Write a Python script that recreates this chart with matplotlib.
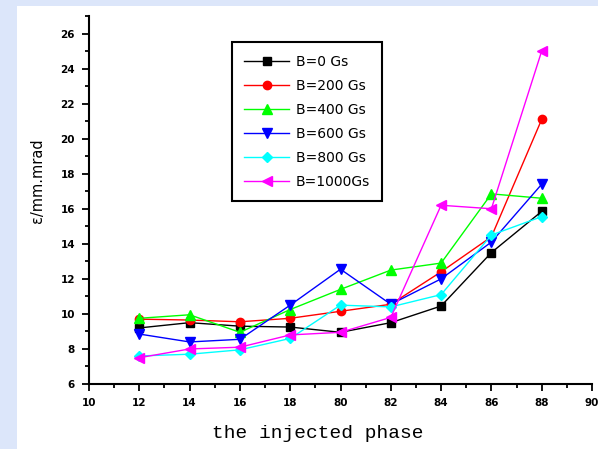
import matplotlib
matplotlib.use("Agg")
import matplotlib.pyplot as plt
from matplotlib.patches import Rectangle
from matplotlib.ticker import MultipleLocator

# data
phase = [12, 14, 16, 18, 20, 22, 24, 26, 28]
b0 = [9.2, 9.5, 9.3, 9.25, 8.95, 9.5, 10.45, 13.5, 15.85]
b200 = [9.7, 9.65, 9.55, 9.75, 10.15, 10.55, 12.4, 14.4, 21.1]
b400 = [9.75, 9.95, 8.95, 10.25, 11.4, 12.5, 12.9, 16.85, 16.6]
b600 = [8.85, 8.4, 8.55, 10.5, 12.55, 10.55, 12.0, 14.1, 17.4]
b800 = [7.6, 7.7, 7.95, 8.6, 10.5, 10.4, 11.1, 14.5, 15.55]
b1000 = [7.5, 8.0, 8.1, 8.8, 8.95, 9.8, 16.2, 16.0, 25.0]
labels = ["B=0 Gs", "B=200 Gs", "B=400 Gs", "B=600 Gs", "B=800 Gs", "B=1000Gs"]

xtick_vals = [10, 12, 14, 16, 18, 20, 22, 24, 26, 28, 30]
xtick_text = ["10", "12", "14", "16", "18", "80", "82", "84", "86", "88", "90"]
ytick_vals = [6, 8, 10, 12, 14, 16, 18, 20, 22, 24, 26]

series = [b0, b200, b400, b600, b800, b1000]
colors = ["black", "red", "#00ff00", "blue", "cyan", "magenta"]
markers = ["s", "o", "^", "v", "D", "<"]
msizes = [5.5, 6, 6.5, 6.5, 5.5, 6.5]

fig = plt.figure(figsize=(5.98, 4.49), dpi=100)
fig.patch.set_facecolor("#dce6fa")
fig.patches.append(Rectangle((17 / 598, 0), 1, 1 - 6 / 449, transform=fig.transFigure,
                             facecolor="white", edgecolor="none", zorder=-10))

ax = fig.add_axes([89 / 598, 1 - 384 / 449, 503 / 598, 368 / 449])
ax.set_facecolor("white")

for ys, c, m, ms, lab in zip(series, colors, markers, msizes, labels):
    ax.plot(phase, ys, color=c, marker=m, markersize=ms, linewidth=1.0, label=lab)

ax.set_xlim(10, 30)
ax.set_ylim(6, 27)
ax.set_xticks(xtick_vals)
ax.set_xticklabels(xtick_text)
ax.set_yticks(ytick_vals)
ax.xaxis.set_minor_locator(MultipleLocator(1))
ax.yaxis.set_minor_locator(MultipleLocator(1))
ax.tick_params(which="major", direction="out", length=5, width=1.3, labelsize=7.5, pad=5)
ax.tick_params(which="minor", direction="out", length=3, width=1.3)
for t in ax.get_xticklabels() + ax.get_yticklabels():
    t.set_fontweight("bold")

for s in ["top", "right"]:
    ax.spines[s].set_visible(False)
for s in ["left", "bottom"]:
    ax.spines[s].set_linewidth(1.5)

leg = ax.legend(loc="upper left", bbox_to_anchor=(0.284, 0.929), borderaxespad=0,
                fontsize=10, fancybox=False, framealpha=1, edgecolor="black",
                handlelength=3.2, labelspacing=0.72, borderpad=0.9, handletextpad=0.5)
leg.get_frame().set_linewidth(1.5)

fig.text(37 / 598, 1 - 181 / 449, "ε/mm.mrad", rotation=90, ha="center", va="center",
         fontsize=10.5)
fig.text(318 / 598, 1 - 433 / 449, "the injected phase", ha="center", va="center",
         fontsize=14, family="Liberation Mono")

fig.savefig("out.png", dpi=100, facecolor=fig.get_facecolor())
